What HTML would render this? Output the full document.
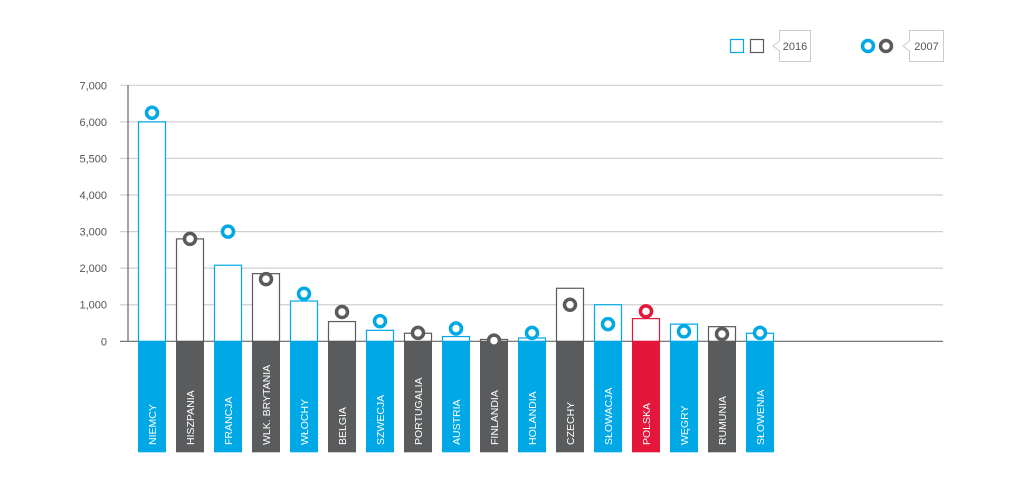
<!DOCTYPE html>
<html><head><meta charset="utf-8"><style>
body{margin:0;background:#fff;}
svg{display:block;font-family:"Liberation Sans",sans-serif;}
</style></head><body>
<svg id="chart" width="1024" height="484" viewBox="0 0 1024 484" xmlns="http://www.w3.org/2000/svg">
<g id="grid"></g>
<g id="bars"></g>
<g id="legend">
  <rect x="730.5" y="39.5" width="13" height="13" fill="none" stroke="#00a8e6" stroke-width="1.2"/>
  <rect x="750.5" y="39.5" width="13" height="13" fill="none" stroke="#5a5b5d" stroke-width="1.2"/>
  <path d="M779.5 30.5 H810.5 V61.5 H779.5 V51 L773 46 L779.5 41 Z" fill="#fff" stroke="#ccc"/>
  <text x="795" y="50" font-size="11" fill="#555" text-anchor="middle">2016</text>
  <circle cx="868" cy="46" r="5.5" fill="#fff" stroke="#00a8e6" stroke-width="3.5"/>
  <circle cx="886" cy="46" r="5.5" fill="#fff" stroke="#5a5b5d" stroke-width="3.5"/>
  <path d="M909.5 30.5 H943.5 V61.5 H909.5 V51 L903 46 L909.5 41 Z" fill="#fff" stroke="#ccc"/>
  <text x="926.5" y="50" font-size="11" fill="#555" text-anchor="middle">2007</text>
</g>
</svg>
<script>
const categories=["NIEMCY","HISZPANIA","FRANCJA","WLK. BRYTANIA","WŁOCHY","BELGIA","SZWECJA","PORTUGALIA","AUSTRIA","FINLANDIA","HOLANDIA","CZECHY","SŁOWACJA","POLSKA","WĘGRY","RUMUNIA","SŁOWENIA"];
const values2016=[6000,2800,2080,1850,1100,540,300,220,130,50,90,1450,1000,620,470,400,220];
const values2007=[6250,2800,3000,1700,1300,800,550,230,350,20,230,1000,470,820,270,200,230];
const colorKeys=["b","d","b","d","b","d","b","d","b","d","b","d","b","r","b","d","b"];
const tickValues=[0,1000,2000,3000,4000,5500,6000,7000];
const tickLabels=["0","1,000","2,000","3,000","4,000","5,500","6,000","7,000"];
const COL={b:"#00a8e6",d:"#5a5b5d",r:"#e4173a"};
const NS="http://www.w3.org/2000/svg";
const y0=341.3,step=36.57,xAxis=128,x0=138,pitch=38,bw=28;
function yScale(v){
  for(let i=0;i<tickValues.length-1;i++){
    if(v<=tickValues[i+1]){const a=tickValues[i],b=tickValues[i+1];return y0-step*(i+(v-a)/(b-a));}
  }
  return y0-step*(tickValues.length-1);
}
function xScale(i){return x0+i*pitch;}
function mk(tag,attrs,parent){const e=document.createElementNS(NS,tag);for(const k in attrs)e.setAttribute(k,attrs[k]);parent.appendChild(e);return e;}
const grid=document.getElementById("grid"),bars=document.getElementById("bars");
tickValues.forEach((v,i)=>{
  const y=yScale(v);
  const l=mk("line",{x1:xAxis-8,x2:943,y1:y,y2:y,stroke:i==0?"#666":"#d0d0d0","stroke-width":1.2},grid);
  
  
  const t=mk("text",{x:107,y:y+4,"font-size":11,fill:"#555","text-anchor":"end"},grid);
  t.textContent=tickLabels[i];
  
  
});
const ax=mk("line",{x1:xAxis,x2:xAxis,y1:yScale(7000),y2:y0,stroke:"#666","stroke-width":1.2},grid);


categories.forEach((c,i)=>{
  const x=xScale(i),col=COL[colorKeys[i]];
  const g=mk("g",{},bars);
  
  
  const top=yScale(values2016[i]);
  const r=mk("rect",{x:x+0.5,y:top,width:bw-1,height:y0-top,fill:"#fff",stroke:col,"stroke-width":1.2},g);
  
  
  const base=mk("rect",{x:x,y:y0,width:bw,height:111,fill:col},g);
  
  
  const t=mk("text",{x:0,y:0,"font-size":10.5,fill:"#fff",transform:`translate(${x+bw/2+4},445) rotate(-90)`},g);
  t.textContent=c;
  
  
  const ci=mk("circle",{cx:x+bw/2,cy:yScale(values2007[i]),r:5.5,fill:"#fff",stroke:col,"stroke-width":3.5},g);
  
  
});
</script>
</body></html>
